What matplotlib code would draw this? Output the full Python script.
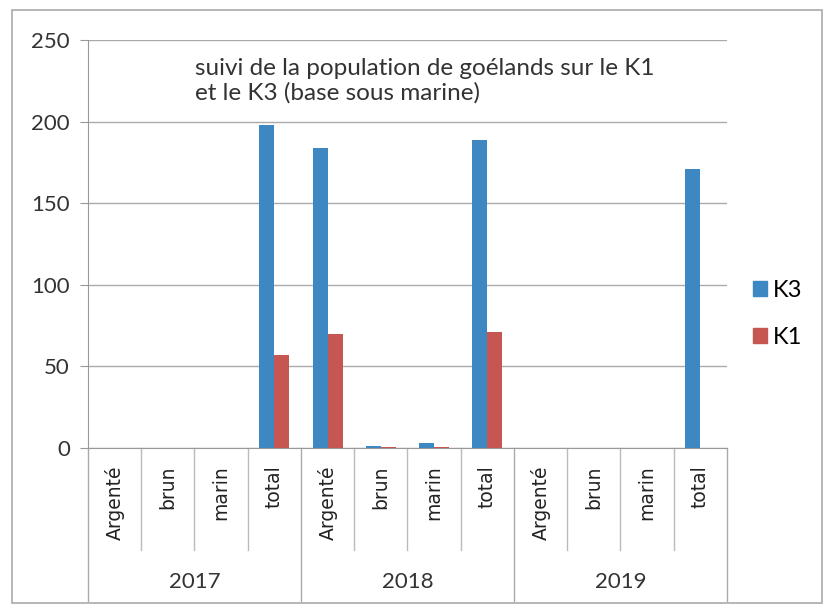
import matplotlib
matplotlib.use("Agg")
import matplotlib.pyplot as plt
from matplotlib.patches import Rectangle, Patch
from matplotlib.transforms import blended_transform_factory

plt.rcParams['font.family'] = ['Lato', 'DejaVu Sans']

years = ["2017", "2018", "2019"]
species = ["Argenté", "brun", "marin", "total"]
categories = [s for y in years for s in species]
k3 = [0, 0, 0, 198, 184, 1, 3, 189, 0, 0, 0, 171]
k1 = [0, 0, 0, 57, 70, 0.5, 0.5, 71, 0, 0, 0, 0]
series_names = ["K3", "K1"]
colors = ["#3d87c2", "#c65651"]
title = "suivi de la population de goélands sur le K1\net le K3 (base sous marine)"
yticks = [0, 50, 100, 150, 200, 250]

W, H = 829, 609
fig = plt.figure(figsize=(W / 100, H / 100), dpi=100)
ax = fig.add_axes([88 / W, 1 - 448 / H, (727 - 88) / W, (448 - 40) / H])

n = len(categories)
xs = list(range(n))
bw = 0.28
ax.bar([x - bw / 2 for x in xs], k3, width=bw, color=colors[0], zorder=3)
ax.bar([x + bw / 2 for x in xs], k1, width=bw, color=colors[1], zorder=3)

ax.set_xlim(-0.5, n - 0.5)
ax.set_ylim(0, 250)
ax.set_yticks(yticks)
ax.set_yticklabels([str(v) for v in yticks], fontsize=16, color="#333333")
ax.tick_params(axis='y', length=6, color="#999999", pad=7)
ax.set_xticks([])
ax.grid(axis='y', color="#aaaaaa", linewidth=1, zorder=0)
for s in ["top", "right"]:
    ax.spines[s].set_visible(False)
ax.spines["left"].set_color("#999999")
ax.spines["bottom"].set_color("#999999")

tr = blended_transform_factory(ax.transData, ax.transAxes)
cat_bottom = -0.25
year_bottom = -0.375
# category labels and dividers
for i, c in enumerate(categories):
    ax.text(i, -0.042, c, rotation=90, ha='center', va='top', fontsize=13.5,
            family=['DejaVu Sans'], color="#222222", transform=tr)
for i in range(n + 1):
    xb = i - 0.5
    if i % 4 == 0:
        ax.plot([xb, xb], [0, year_bottom], color="#aaaaaa", lw=1,
                transform=tr, clip_on=False)
    else:
        ax.plot([xb, xb], [0, cat_bottom], color="#bbbbbb", lw=1,
                transform=tr, clip_on=False)
for j, y in enumerate(years):
    ax.text(j * 4 + 1.5, -0.328, y, ha='center', va='center', fontsize=16,
            color="#333333", transform=tr)

# title inside plot
fig.text(195 / W, 1 - 58 / H, title, ha='left', va='top', fontsize=17.5,
         color="#333333", linespacing=1.15)

# legend
handles = [Patch(color=colors[0]), Patch(color=colors[1])]
fig.legend(handles, series_names, loc='center left',
           bbox_to_anchor=(732 / W, 1 - 314 / H), frameon=False,
           fontsize=17, handlelength=0.6, handleheight=0.6,
           handletextpad=0.25, labelspacing=1.1)

# outer frame
fig.patches.append(Rectangle((12 / W, 1 - 603 / H), 810 / W, 593 / H,
                             transform=fig.transFigure, fill=False,
                             edgecolor="#aaaaaa", lw=1.2))

fig.savefig("out.png", dpi=100)
